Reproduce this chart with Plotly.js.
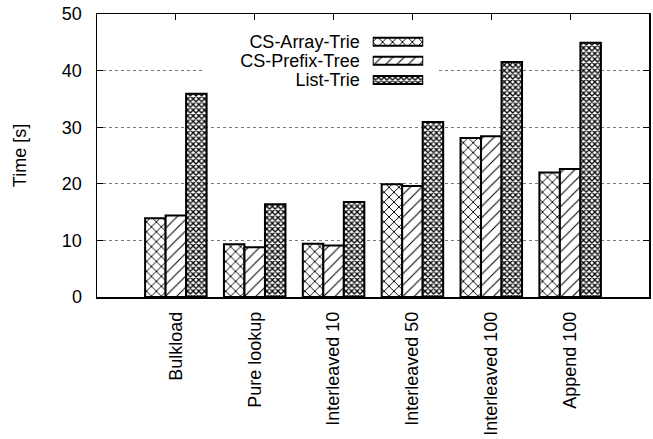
<!DOCTYPE html>
<html>
<head>
<meta charset="utf-8">
<script src="https://cdn.plot.ly/plotly-3.0.1.min.js"></script>
<style>html,body{margin:0;padding:0;background:#fff;}#chart{width:653px;height:439px;}</style>
</head>
<body>
<div id="chart"></div>
<script>
const categories = ["Bulkload", "Pure lookup", "Interleaved 10", "Interleaved 50", "Interleaved 100", "Append 100"];
const seriesNames = ["CS-Array-Trie", "CS-Prefix-Tree", "List-Trie"];
const csArrayTrie = [13.9, 9.3, 9.4, 19.9, 28.1, 22.0];
const csPrefixTree = [14.4, 8.8, 9.1, 19.6, 28.4, 22.6];
const listTrie = [35.9, 16.4, 16.8, 30.9, 41.5, 44.9];
const yTicks = [0, 10, 20, 30, 40, 50];

const seriesValues = [csArrayTrie, csPrefixTree, listTrie];
const patShapes = ["x", "/", "x"];
const patSizes = [7, 8, 4];
const patSolid = [0.25, 0.13, 0.55];
const FONT = "Liberation Sans, Arial, Helvetica, sans-serif";

const traces = seriesNames.map((name, i) => ({
  type: "bar",
  name: name,
  x: categories,
  y: seriesValues[i],
  xaxis: "x", yaxis: "y",
  marker: {
    color: "#ffffff",
    line: {color: "#000000", width: 2},
    pattern: {shape: patShapes[i], size: patSizes[i], solidity: patSolid[i], fgcolor: "#000000", bgcolor: "#ffffff", fillmode: "replace"}
  },
  showlegend: false,
  hoverinfo: "skip"
}));

// legend keys drawn as a bar trace on a small overlay subplot
traces.push({
  type: "bar",
  orientation: "h",
  y: seriesNames,
  x: seriesNames.map(() => 1),
  xaxis: "x2", yaxis: "y2",
  width: 0.42,
  marker: {
    color: "#ffffff",
    line: {color: "#000000", width: 2},
    pattern: {shape: patShapes, size: patSizes, solidity: patSolid, fgcolor: "#000000", bgcolor: "#ffffff", fillmode: "replace"}
  },
  showlegend: false,
  hoverinfo: "skip"
});

const layout = {
  width: 653, height: 439,
  margin: {l: 97, r: 4, t: 14, b: 142, pad: 0},
  paper_bgcolor: "#ffffff", plot_bgcolor: "#ffffff",
  font: {family: FONT, size: 18, color: "#000000"},
  showlegend: false,
  barmode: "group",
  bargap: 0.22,
  bargroupgap: 0,
  xaxis: {
    type: "category",
    range: [-1, 6],
    domain: [0, 1],
    showline: true, linecolor: "#000000", linewidth: 1.5, mirror: "ticks",
    ticks: "inside", ticklen: 6, tickcolor: "#000000", tickwidth: 1,
    tickangle: -90,
    tickfont: {family: FONT, size: 18, color: "#000000"},
    ticklabelstandoff: 6,
    showgrid: false, zeroline: false,
    layer: "below traces",
    fixedrange: true
  },
  yaxis: {
    range: [0, 50],
    tickvals: yTicks,
    ticktext: yTicks.map(String),
    showline: true, linecolor: "#000000", linewidth: 1.5, mirror: "ticks",
    ticks: "inside", ticklen: 6, tickcolor: "#000000", tickwidth: 1,
    tickfont: {family: FONT, size: 18, color: "#000000"},
    ticklabelstandoff: 10,
    showgrid: true, gridcolor: "#777777", gridwidth: 1, griddash: "dot",
    zeroline: false,
    layer: "below traces",
    title: {text: "Time [s]", font: {family: FONT, size: 18, color: "#000000"}, standoff: 30},
    fixedrange: true
  },
  xaxis2: {
    domain: [0.4995, 0.591],
    range: [0, 1],
    anchor: "y2",
    visible: false,
    fixedrange: true
  },
  yaxis2: {
    domain: [0.733, 0.936],
    anchor: "x2",
    type: "category",
    categoryarray: seriesNames,
    categoryorder: "array",
    tickmode: "array",
    tickvals: seriesNames,
    ticktext: seriesNames,
    autorange: "reversed",
    showgrid: false, zeroline: false, showline: false,
    ticks: "",
    ticklabelstandoff: 12,
    tickfont: {family: FONT, size: 18, color: "#000000"},
    fixedrange: true
  },
  shapes: [{
    type: "rect", xref: "x", yref: "y", layer: "between",
    x0: 0.34, x1: 3.31, y0: 34, y1: 48,
    fillcolor: "#ffffff", line: {width: 0}
  }]
};

Plotly.newPlot("chart", traces, layout, {displayModeBar: false, staticPlot: true});
</script>
</body>
</html>
